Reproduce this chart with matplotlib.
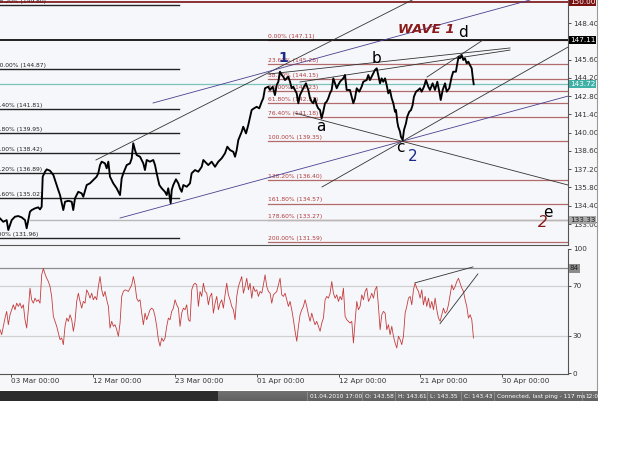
import numpy as np
import matplotlib.pyplot as plt
from matplotlib.patches import Rectangle

# price path (trading days since 03 Mar 00:00, price)
price_pts = [
    (-0.94, 133.43), (-0.66, 133.17), (-0.37, 133.30), (-0.23, 132.54), (0.06, 133.30), (0.34, 133.56),
    (0.62, 133.61), (0.91, 133.51), (1.20, 133.30), (1.34, 132.67), (1.48, 133.30), (1.62, 133.94),
    (1.77, 134.07), (2.05, 134.20), (2.33, 134.28), (2.48, 134.12), (2.62, 134.32), (2.71, 136.63),
    (2.91, 137.01), (3.05, 137.19), (3.33, 137.09), (3.62, 136.76), (3.76, 136.37), (4.04, 135.61),
    (4.19, 135.22), (4.47, 134.07), (4.62, 134.71), (4.90, 134.78), (5.19, 134.71), (5.32, 134.07),
    (5.47, 134.97), (5.75, 135.47), (6.04, 135.35), (6.18, 135.09), (6.47, 135.99), (6.75, 136.12),
    (7.03, 136.37), (7.32, 136.63), (7.46, 136.89), (7.61, 137.52), (7.75, 137.78), (8.03, 137.65),
    (8.18, 137.27), (8.32, 137.78), (8.46, 136.63), (8.74, 136.12), (9.03, 135.74), (9.32, 135.22),
    (9.46, 136.50), (9.60, 136.89), (9.89, 137.52), (10.17, 137.65), (10.32, 138.04), (10.45, 139.19),
    (10.60, 138.67), (10.74, 138.29), (11.03, 138.16), (11.31, 137.65), (11.45, 137.14), (11.60, 137.91),
    (11.88, 137.78), (12.16, 137.91), (12.31, 137.52), (12.45, 136.89), (12.68, 135.99), (12.88, 135.74),
    (13.16, 135.47), (13.31, 135.22), (13.44, 135.74), (13.65, 134.59), (13.74, 135.61), (13.87, 135.99),
    (14.10, 136.43), (14.30, 136.12), (14.44, 135.74), (14.59, 135.47), (14.73, 135.99), (15.02, 135.86),
    (15.30, 136.12), (15.44, 136.89), (15.73, 137.14), (16.01, 137.01), (16.30, 137.39), (16.44, 137.91),
    (16.58, 137.78), (16.86, 137.52), (17.15, 137.78), (17.44, 137.39), (17.72, 137.78), (18.01, 138.04),
    (18.29, 138.42), (18.49, 138.93), (18.72, 138.67), (19.00, 138.54), (19.15, 138.16), (19.29, 138.67),
    (19.43, 139.44), (19.72, 140.08), (19.85, 140.46), (20.09, 139.95), (20.28, 140.59), (20.57, 141.74),
    (20.77, 141.87), (21.00, 141.99), (21.22, 141.87), (21.43, 142.38), (21.56, 142.64), (21.71, 143.41),
    (21.99, 143.53), (22.14, 143.28), (22.37, 143.53), (22.56, 142.89), (22.71, 143.66), (22.85, 143.91),
    (22.99, 144.68), (23.14, 144.43), (23.27, 144.30), (23.42, 144.04), (23.56, 144.17), (23.70, 144.30),
    (23.85, 143.91), (23.99, 143.41), (24.13, 143.53), (24.42, 143.02), (24.56, 142.26), (24.70, 142.89),
    (24.98, 143.41), (25.21, 143.79), (25.41, 143.28), (25.56, 142.64), (25.70, 142.38), (25.84, 142.26),
    (25.98, 142.64), (26.13, 142.12), (26.26, 141.87), (26.41, 141.74), (26.55, 141.10), (26.69, 141.61),
    (26.84, 142.26), (26.98, 142.38), (27.12, 142.64), (27.26, 143.02), (27.41, 143.28), (27.55, 144.17),
    (27.69, 143.79), (27.84, 143.41), (27.97, 143.66), (28.12, 143.91), (28.40, 144.17), (28.55, 144.43),
    (28.69, 143.28), (28.97, 143.28), (29.12, 142.76), (29.26, 142.26), (29.40, 142.64), (29.55, 143.41),
    (29.77, 143.15), (29.97, 143.53), (30.11, 143.91), (30.40, 144.04), (30.54, 144.43), (30.68, 144.04),
    (30.83, 144.30), (30.97, 144.56), (31.11, 144.81), (31.26, 144.94), (31.39, 144.43), (31.54, 143.79),
    (31.68, 144.17), (31.82, 143.91), (31.97, 144.17), (32.11, 143.66), (32.25, 143.02), (32.39, 143.28),
    (32.54, 142.64), (32.68, 142.26), (32.82, 141.61), (32.91, 141.74), (33.02, 140.84), (33.10, 140.46),
    (33.25, 140.08), (33.33, 139.69), (33.48, 139.44), (33.59, 140.21), (33.76, 140.72), (33.87, 141.23),
    (34.04, 141.61), (34.19, 141.74), (34.33, 142.12), (34.44, 142.76), (34.62, 143.15), (34.81, 143.28),
    (34.96, 143.41), (35.10, 143.15), (35.30, 143.53), (35.47, 144.04), (35.67, 143.53), (35.81, 143.28),
    (36.04, 143.79), (36.24, 143.28), (36.44, 143.91), (36.61, 143.15), (36.73, 142.51), (36.90, 143.28),
    (37.10, 143.79), (37.24, 143.15), (37.46, 143.41), (37.67, 144.30), (37.80, 144.68), (38.03, 144.68),
    (38.15, 145.32), (38.26, 145.83), (38.38, 145.71), (38.52, 145.96), (38.66, 145.58), (38.80, 145.71),
    (38.95, 145.32), (39.09, 145.45), (39.23, 145.19), (39.38, 144.94), (39.46, 144.30), (39.55, 143.72),
]

# RSI, one reading every 0.1425 trading days from the left edge
rsi_start, rsi_step = -0.94, 0.1425
rsi = [
    34.8, 30.8, 37.5, 44.1, 49.5, 38.8, 46.8, 50.8, 54.8, 50.8,
    56.1, 53.5, 56.1, 52.1, 54.8, 42.8, 36.1, 50.8, 68.1, 58.8,
    56.1, 60.1, 57.5, 58.8, 56.1, 78.8, 84.0, 79.6, 76.1, 73.5,
    69.5, 61.5, 45.5, 41.5, 37.5, 32.1, 26.8, 28.1, 22.8, 37.5,
    44.1, 41.5, 46.8, 42.8, 33.5, 41.5, 57.5, 64.1, 57.5, 52.1,
    57.5, 56.1, 66.8, 64.1, 60.1, 64.1, 58.8, 61.5, 58.8, 69.5,
    77.5, 66.8, 61.5, 65.5, 58.8, 53.5, 36.1, 41.5, 37.5, 38.8,
    34.8, 29.5, 40.1, 61.5, 65.5, 66.8, 66.3, 65.5, 68.1, 70.8,
    77.5, 70.8, 60.1, 57.5, 58.8, 48.1, 38.8, 48.1, 42.8, 46.8,
    50.8, 52.1, 50.8, 45.5, 37.5, 26.8, 21.5,
    28.1, 25.5, 28.1, 37.5, 44.1, 42.8, 49.5, 52.1, 58.8, 54.8,
    52.1, 37.5, 48.1, 52.1, 50.8, 54.8, 42.8, 41.5, 66.8, 70.8,
    72.1, 70.8, 53.5, 65.5, 61.5, 72.1, 65.5, 64.1, 54.8, 61.5,
    64.1, 48.1, 56.1, 61.5, 50.8, 56.1, 58.8, 52.1, 62.8, 72.1,
    62.8, 58.8, 53.5, 50.8, 42.8, 61.5, 69.5, 73.5, 77.5, 64.1,
    69.5, 76.1, 66.8, 72.1, 60.1, 69.5, 65.5, 66.8, 61.5, 65.5,
    64.1, 70.8, 78.8, 69.5, 65.5, 64.1, 56.1, 62.8, 64.1, 65.5,
    70.8, 76.1, 62.8, 61.5, 64.1, 58.8, 53.5, 57.5, 50.8, 42.8,
    33.5, 25.5, 37.5, 46.8, 50.8, 53.5,
    58.8, 53.5, 46.8, 41.5, 48.1, 42.8, 38.8, 41.5, 37.5, 33.5,
    40.1, 44.1, 58.8, 61.5, 60.1, 64.1, 73.5, 64.1, 60.1, 62.8,
    57.5, 61.5, 58.8, 68.1, 45.5, 42.8, 41.5, 40.1, 41.5, 24.1,
    41.5, 57.5, 50.8, 53.5, 62.8, 58.8, 65.5, 68.1, 57.5, 60.1,
    64.1, 60.1, 66.8, 69.5, 53.5, 34.8, 46.8, 49.5, 48.1, 34.8,
    38.8, 30.8, 37.5, 29.5, 24.1, 20.1, 29.5, 26.8, 22.8, 29.5,
    48.1, 53.5, 60.1, 61.5, 54.8, 66.8, 72.1, 68.1, 65.5, 60.1,
    66.8, 54.8, 61.5, 53.5, 60.1, 52.1, 57.5, 50.8, 60.1, 50.8,
    44.1, 41.5, 46.8, 52.1, 48.1, 49.5, 54.8, 62.8, 70.8, 66.8,
    69.5, 73.5, 76.1, 72.1, 68.1, 65.5, 58.8, 53.5, 44.1, 46.8,
    42.8, 28.1,
]

date_ticks = [0, 7, 14, 21, 28, 35, 42]
date_labels = ['03 Mar 00:00', '12 Mar 00:00', '23 Mar 00:00', '01 Apr 00:00',
               '12 Apr 00:00', '21 Apr 00:00', '30 Apr 00:00']

# left (black) fibonacci set
fib_left_pct = ['0.00%', '23.60%', '38.20%', '50.00%', '61.80%', '76.40%', '100.00%', '138.20%']
fib_left_val = [131.96, 135.02, 136.89, 138.42, 139.95, 141.81, 144.87, 149.80]
# wave 1 (red) fibonacci set
fib_red_pct = ['0.00%', '23.60%', '38.20%', '50.00%', '61.80%', '76.40%', '100.00%',
               '138.20%', '161.80%', '178.60%', '200.00%']
fib_red_val = [147.11, 145.28, 144.15, 143.23, 142.31, 141.18, 139.35, 136.40, 134.57, 133.27, 131.59]

price_ticks = [133.00, 134.40, 135.80, 137.20, 138.60, 140.00, 141.40, 142.80, 144.20, 145.60, 148.40]

# hand drawn trendlines: (t0, p0, t1, p1, colour)
trendlines = [
    (7.26, 137.91, 35.98, 150.95, '#333333'),
    (9.32, 133.46, 47.61, 142.81, '#4b3f8f'),
    (12.14, 142.28, 44.36, 150.18, '#4b3f8f'),
    (21.97, 144.50, 42.65, 146.50, '#333333'),
    (24.70, 143.89, 42.65, 146.34, '#333333'),
    (35.56, 144.27, 40.34, 147.11, '#333333'),
    (24.27, 141.51, 47.61, 135.99, '#333333'),
    (26.58, 135.84, 47.61, 146.57, '#333333'),
]
rsi_lines = [(34.53, 72.4, 39.49, 85.2), (36.67, 39.6, 39.91, 79.6)]

W, H = 625, 469


def box(x0, y0, x1, y1):
    return [x0 / W, 1 - y1 / H, (x1 - x0) / W, (y1 - y0) / H]


fig = plt.figure(figsize=(6.25, 4.69), dpi=100, facecolor='white')
fig.patches.append(Rectangle((0, 1 - 390 / H), 597 / W, 390 / H, transform=fig.transFigure,
                             facecolor='#f7f7f9', edgecolor='none', zorder=-5))
fig.add_artist(plt.Line2D([597 / W, 597 / W], [1 - 390 / H, 1], transform=fig.transFigure,
                          color='#9a9a9a', lw=0.8))

bg = '#f6f7fb'
ax = fig.add_axes(box(0, 0, 568, 245), facecolor=bg)
ax2 = fig.add_axes(box(0, 248.5, 568, 373.5), facecolor=bg)
xlim = (-0.94, 47.61)

pt = np.array([p[0] for p in price_pts])
pv = np.array([p[1] for p in price_pts])

# horizontal levels
for pct, v in zip(fib_left_pct, fib_left_val):
    ax.plot([xlim[0], 14.36], [v, v], color='#222222', lw=1.0, zorder=2)
    ax.text(-1.62, v + 0.08, f'{pct} ({v:.2f})', fontsize=4.3, color='#222222',
            va='bottom', ha='left', clip_on=True)
for pct, v in zip(fib_red_pct, fib_red_val):
    ax.plot([21.97, xlim[1]], [v, v], color='#b36a6a', lw=0.9, zorder=2)
    ax.text(21.97, v + 0.08, f'{pct} ({v:.2f})', fontsize=4.3, color='#b03a3a',
            va='bottom', ha='left', clip_on=True)
ax.axhline(147.11, color='#111111', lw=1.3, zorder=3)
ax.axhline(150.00, color='#7a1010', lw=1.2, zorder=3)
ax.axhline(143.72, color='#79c4bb', lw=0.9, zorder=2)
ax.plot([1.62, xlim[1]], [133.33, 133.33], color='#b8b8b8', lw=1.0, zorder=2)

for t0, p0, t1, p1, c in trendlines:
    ax.plot([t0, t1], [p0, p1], color=c, lw=0.6, zorder=3)

ax.plot(pt, pv, color='black', lw=1.35, zorder=4)

# wave labels
ax.text(35.47, 147.88, 'WAVE 1', color='#8b1a1a', fontsize=9.5, fontweight='bold',
        fontstyle='italic', ha='center', va='center')
ax.text(38.63, 147.65, 'd', color='black', fontsize=11, ha='center', va='center')
ax.text(23.25, 145.73, '1', color='#1c2a8c', fontsize=10, fontweight='bold', ha='center', va='center')
ax.text(31.28, 145.73, 'b', color='black', fontsize=11, ha='center', va='center')
ax.text(26.50, 140.44, 'a', color='black', fontsize=11, ha='center', va='center')
ax.text(33.25, 138.90, 'c', color='black', fontsize=11, ha='center', va='center')
ax.text(34.36, 138.14, '2', color='#1c2a8c', fontsize=11, ha='center', va='center')
ax.text(45.90, 133.90, 'e', color='black', fontsize=11, ha='center', va='center')
ax.text(45.47, 133.10, '2', color='#8b1a1a', fontsize=11, fontstyle='italic', ha='center', va='center')

ax.set_xlim(*xlim)
ax.set_ylim(131.39, 150.18)
ax.yaxis.tick_right()
ax.set_yticks(price_ticks)
ax.set_yticklabels([f'{v:.2f}' for v in price_ticks])
ax.tick_params(axis='y', labelsize=5.2, length=2, pad=1.5, colors='#333333', width=0.6)
ax.tick_params(axis='x', bottom=False, labelbottom=False)
for s in ['left', 'top']:
    ax.spines[s].set_visible(False)
for s in ['right', 'bottom']:
    ax.spines[s].set_color('#555555')
    ax.spines[s].set_linewidth(0.8)

ytr = ax.get_yaxis_transform()
ax.text(1.003, 147.11, '147.11', transform=ytr, fontsize=5.2, color='white', va='center', ha='left',
        bbox=dict(boxstyle='square,pad=0.15', fc='black', ec='none'), zorder=6)
ax.text(1.003, 143.72, '143.72', transform=ytr, fontsize=5.2, color='white', va='center', ha='left',
        bbox=dict(boxstyle='square,pad=0.15', fc='#3fb0a6', ec='none'), zorder=6)
ax.text(1.003, 133.33, '133.33', transform=ytr, fontsize=5.2, color='#222222', va='center', ha='left',
        bbox=dict(boxstyle='square,pad=0.15', fc='#a8a8a8', ec='none'), zorder=6)
ax.text(1.003, 150.00, '150.00', transform=ytr, fontsize=5.2, color='white', va='center', ha='left',
        bbox=dict(boxstyle='square,pad=0.15', fc='#7a1010', ec='none'), zorder=6, clip_on=False)

# RSI panel
rt = rsi_start + np.arange(len(rsi)) * rsi_step
ax2.axhline(84, color='#8c8c8c', lw=0.9)
ax2.axhline(70, color='#d0d0d0', lw=0.9)
ax2.axhline(30, color='#d0d0d0', lw=0.9)
ax2.plot(rt, rsi, color='#c43c3c', lw=0.6)
for t0, r0, t1, r1 in rsi_lines:
    ax2.plot([t0, t1], [r0, r1], color='#333333', lw=0.6)
ax2.set_xlim(*xlim)
ax2.set_ylim(-0.4, 99.6)
ax2.yaxis.tick_right()
ax2.set_yticks([0, 30, 70, 100])
ax2.set_yticklabels(['0', '30', '70', '100'])
ax2.tick_params(axis='y', labelsize=5.2, length=2, pad=1.5, colors='#333333', width=0.6)
ax2.set_xticks(date_ticks)
ax2.set_xticklabels(date_labels, ha='left')
ax2.tick_params(axis='x', labelsize=5.2, length=2, pad=1.5, colors='#333333', width=0.6)
for s in ['left', 'top']:
    ax2.spines[s].set_visible(False)
for s in ['right', 'bottom']:
    ax2.spines[s].set_color('#555555')
    ax2.spines[s].set_linewidth(0.8)
ax2.text(1.003, 84, '84', transform=ax2.get_yaxis_transform(), fontsize=5.2, color='#222222',
         va='center', ha='left', bbox=dict(boxstyle='square,pad=0.15', fc='#8c8c8c', ec='none'))

# status bar
sb = fig.add_axes(box(0, 391, 598, 401))
sb.set_xlim(0, 598)
sb.set_ylim(0, 10)
sb.axis('off')
sb.add_patch(Rectangle((0, 0), 218, 10, fc='#2c2c2c', ec='none'))
grad = np.linspace(0.45, 0.38, 50).reshape(-1, 1)
sb.imshow(grad, extent=(218, 598, 0, 10), cmap='gray', vmin=0, vmax=1, aspect='auto')
status = [(310, '01.04.2010 17:00'), (365, 'O: 143.58'), (398, 'H: 143.61'), (430, 'L: 143.35'),
          (464, 'C: 143.43'), (497, 'Connected, last ping - 117 ms'), (585, '12:01')]
for x, s in status:
    sb.text(x, 5, s, color='white', fontsize=4.2, va='center', ha='left')
    sb.plot([x - 3, x - 3], [1, 9], color='#999999', lw=0.5)
sb.set_xlim(0, 598)
sb.set_ylim(0, 10)

fig.savefig('out.png', dpi=100, facecolor='white')
